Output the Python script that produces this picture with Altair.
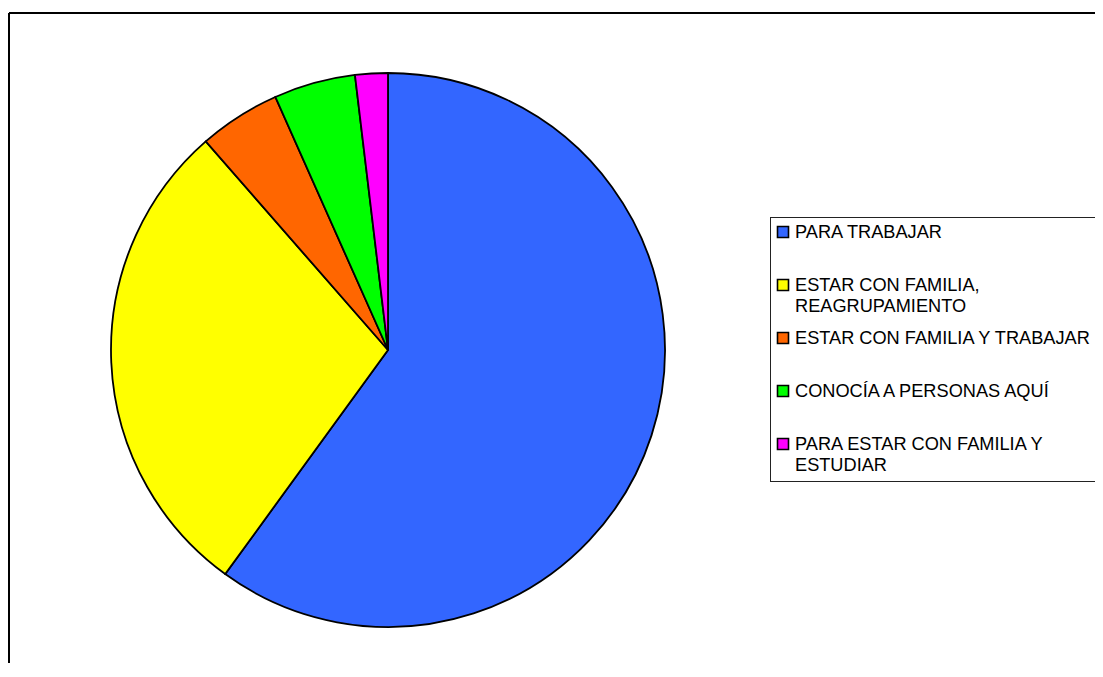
import altair as alt
import pandas as pd

# ---- data ----
categories = [
    "PARA TRABAJAR",
    "ESTAR CON FAMILIA, REAGRUPAMIENTO",
    "ESTAR CON FAMILIA Y TRABAJAR",
    "CONOCÍA A PERSONAS AQUÍ",
    "PARA ESTAR CON FAMILIA Y ESTUDIAR",
]
values = [63, 30, 5, 5, 2]
legend_labels = [
    "PARA TRABAJAR",
    "ESTAR CON FAMILIA,\nREAGRUPAMIENTO",
    "ESTAR CON FAMILIA Y TRABAJAR",
    "CONOCÍA A PERSONAS AQUÍ",
    "PARA ESTAR CON FAMILIA Y\nESTUDIAR",
]
colors = ["#3366FF", "#FFFF00", "#FF6600", "#00FF00", "#FF00FF"]

df = pd.DataFrame({
    "cat": categories,
    "value": values,
    "label": legend_labels,
    "idx": list(range(len(categories))),
})
one = pd.DataFrame({"k": [0]})

FONT = "Liberation Sans"
color_scale = alt.Scale(domain=categories, range=colors)
legend_y = alt.Y("cat:N", axis=None,
                 scale=alt.Scale(type="point", domain=categories, range=[219, 431], padding=0))

pie = alt.Chart(df).mark_arc(radius=277, stroke="black", strokeWidth=1.8).encode(
    theta=alt.Theta("value:Q", stack=True),
    color=alt.Color("cat:N", scale=color_scale, legend=None),
    order=alt.Order("idx:Q"),
    x=alt.value(379),
    y=alt.value(337),
)

frame_left = alt.Chart(one).mark_rule(color="black", strokeWidth=2).encode(
    x=alt.value(0), y=alt.value(0), y2=alt.value(800)
)
frame_top = alt.Chart(one).mark_rule(color="black", strokeWidth=2).encode(
    y=alt.value(0), x=alt.value(0), x2=alt.value(1200)
)

box_left = alt.Chart(one).mark_rule(color="#222222", strokeWidth=1).encode(
    x=alt.value(761.5), y=alt.value(204), y2=alt.value(469)
)
box_top = alt.Chart(one).mark_rule(color="#222222", strokeWidth=1).encode(
    y=alt.value(204.5), x=alt.value(761), x2=alt.value(1200)
)
box_bottom = alt.Chart(one).mark_rule(color="#222222", strokeWidth=1).encode(
    y=alt.value(468.5), x=alt.value(761), x2=alt.value(1200)
)

legend_sym = alt.Chart(df).mark_square(size=121, stroke="black", strokeWidth=1.6, opacity=1).encode(
    y=legend_y,
    x=alt.value(774),
    color=alt.Color("cat:N", scale=color_scale, legend=None),
)

legend_txt = alt.Chart(df).mark_text(
    align="left", baseline="top", dy=-8, font=FONT, fontSize=18.2,
    lineBreak="\n", lineHeight=21, color="black",
).encode(
    y=legend_y,
    x=alt.value(786),
    text="label:N",
)

chart = alt.layer(frame_left, frame_top, pie, box_left, box_top, box_bottom,
                  legend_sym, legend_txt).properties(
    width=1086,
    height=650,
    padding={"left": 1, "top": 5, "right": 0, "bottom": 0},
    autosize=alt.AutoSizeParams(type="none"),
    background="white",
).configure_view(strokeWidth=0)

chart.save("out.html", embed_options={"renderer": "svg", "actions": False})
